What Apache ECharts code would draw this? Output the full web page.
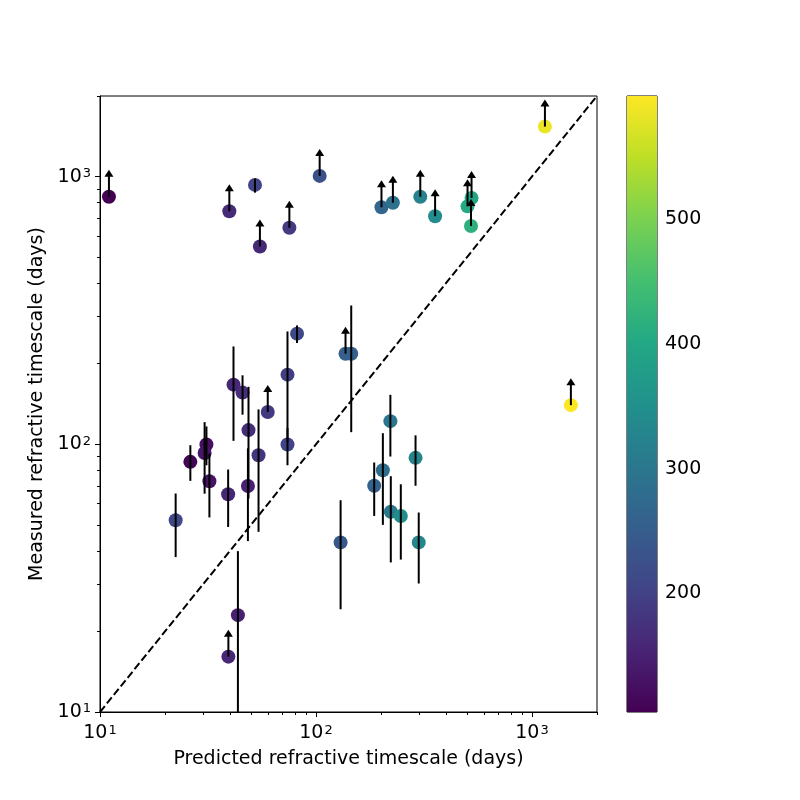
<!DOCTYPE html>
<html>
<head>
<meta charset="utf-8">
<script src="https://cdn.jsdelivr.net/npm/echarts@6/dist/echarts.min.js"></script>
<style>
  html, body { margin: 0; padding: 0; background: #fff; }
  #chart { width: 800px; height: 800px; }
</style>
</head>
<body>
<div id="chart"></div>
<script>
// one entry per source: predicted / measured timescale (days) and colour value
const predicted = [11.0, 39.7, 52.2, 55.0, 75.3, 104, 201, 227, 304, 356, 503, 525, 522, 1148, 1514,
  137, 145.6, 221, 289, 204, 186, 222, 247, 130, 299,
  81.7, 73.8, 41.5, 45.7, 59.8, 48.7, 73.8, 31.1, 30.5, 54.2, 26.2, 32.1, 48.4, 39.2, 22.4, 43.5, 39.3];
const measured = [841, 742, 931, 548, 644, 1006, 768, 798, 841, 711, 774, 832, 654, 1537, 140,
  218, 218, 122, 89, 80, 70, 56, 54, 43, 43,
  259, 182, 167, 156, 132, 113, 99.8, 99.8, 92.8, 91, 86, 72.8, 69.9, 65.1, 52, 23.0, 16.1];
const colourValue = [105, 165, 204, 160, 188, 228, 268, 288, 322, 342, 405, 400, 418, 584, 599,
  255, 255, 298, 327, 280, 259, 305, 342, 240, 332,
  215, 195, 160, 170, 188, 168, 204, 125, 135, 180, 110, 130, 150, 158, 213, 150, 160];
// error bar ends (null = none)
const errLow = [null, null, 871, null, null, null, null, null, null, null, null, null, null, null, null,
  null, 111, 90, 70, 50, 54, 36.2, 37.1, 24.2, 30.2,
  239, 102, 103, 129, null, 62.7, 83.5, 83.5, 65.4, 47.1, 73, 53.3, 43.5, 49.1, 37.9, 10, null];
const errHigh = [null, null, 983, null, null, null, null, null, null, null, null, null, null, null, null,
  null, 330, 153, 108, 110, 85.5, 76, 70.9, 61.8, 55.6,
  278, 264, 232, 181, null, 164, 115, 116.6, 121, 135, 99.2, 92.3, 96.6, 80.5, 65.5, 39.9, null];
// 1 = lower limit (arrow)
const lowerLimit = [1, 1, 0, 1, 1, 1, 1, 1, 1, 1, 1, 1, 1, 1, 1,
  1, 0, 0, 0, 0, 0, 0, 0, 0, 0,
  0, 0, 0, 0, 1, 0, 0, 0, 0, 0, 0, 0, 0, 0, 0, 0, 1];

const majorTicks = [10, 100, 1000];
const minorTicks = [20, 30, 40, 50, 60, 70, 80, 90, 200, 300, 400, 500, 600, 700, 800, 900, 2000];
const colourTicks = [200, 300, 400, 500];
const colourMin = 105, colourMax = 599;
const axisMin = 10, axisMax = 2000;
const viridis = ['#440154', '#482475', '#414487', '#355f8d', '#2a788e', '#21918c',
  '#22a884', '#44bf70', '#7ad151', '#bddf26', '#fde725'];

const points = predicted.map((x, i) => [x, measured[i], colourValue[i]]);
const bars = [];
const limits = [];
predicted.forEach((x, i) => {
  if (errLow[i] != null) bars.push([x, errLow[i], errHigh[i]]);
  if (lowerLimit[i]) limits.push([x, measured[i]]);
});

const font = 'DejaVu Sans';
function supLabel(v) {
  return '10{sup|' + Math.round(Math.log10(v)) + '}';
}
const labelStyle = {
  color: '#000', fontSize: 19, fontFamily: font,
  rich: { sup: { fontSize: 13, fontFamily: font, color: '#000', verticalAlign: 'top', padding: [0, 0, 6, 1] } }
};

function majorAxis(name, nameGap, margin, extra) {
  return Object.assign({
    type: 'log', logBase: 10, min: axisMin, max: axisMax, gridIndex: 0,
    name: name, nameLocation: 'middle', nameGap: nameGap,
    nameTextStyle: { color: '#000', fontSize: 19, fontFamily: font },
    axisLine: { show: true, lineStyle: { color: '#000', width: 1 } },
    axisTick: { show: true, customValues: majorTicks, length: 5, lineStyle: { color: '#000', width: 1 } },
    axisLabel: Object.assign({ customValues: majorTicks, formatter: supLabel, margin: margin }, labelStyle),
    splitLine: { show: false },
    minorTick: { show: false }
  }, extra || {});
}
function minorAxis(extra) {
  return Object.assign({
    type: 'log', logBase: 10, min: axisMin, max: axisMax, gridIndex: 0,
    axisLine: { show: false },
    axisTick: { show: true, customValues: minorTicks, length: 3, lineStyle: { color: '#000', width: 1 } },
    axisLabel: { show: false },
    splitLine: { show: false }
  }, extra || {});
}

const chart = echarts.init(document.getElementById('chart'));
chart.setOption({
  animation: false,
  backgroundColor: '#fff',
  grid: [
    { left: 100, right: 203, top: 96, bottom: 88, show: true, borderColor: '#000', borderWidth: 1, backgroundColor: 'transparent' },
    { left: 627, width: 30, top: 96, bottom: 88, show: true, borderColor: '#000', borderWidth: 1, backgroundColor: 'transparent' }
  ],
  xAxis: [
    majorAxis('Predicted refractive timescale (days)', 38, 12, { position: 'bottom' }),
    minorAxis({ position: 'bottom' }),
    { type: 'value', gridIndex: 1, min: 0, max: 1, show: false }
  ],
  yAxis: [
    majorAxis('Measured refractive timescale (days)', 49, 9, { position: 'left' }),
    minorAxis({ position: 'left' }),
    {
      type: 'value', gridIndex: 1, min: colourMin, max: colourMax, position: 'right',
      axisLine: { show: false },
      axisTick: { show: true, customValues: colourTicks, length: 5, lineStyle: { color: '#000' } },
      axisLabel: { customValues: colourTicks, color: '#000', fontSize: 19, fontFamily: font, margin: 8 },
      splitLine: { show: false }
    }
  ],
  visualMap: {
    type: 'continuous', show: false, seriesIndex: 1, dimension: 2,
    min: colourMin, max: colourMax, inRange: { color: viridis }
  },
  series: [
    {
      type: 'line', xAxisIndex: 0, yAxisIndex: 0, data: [[axisMin, axisMin], [axisMax, axisMax]],
      showSymbol: false, symbol: 'none', z: 1,
      lineStyle: { color: '#000', width: 2, type: [7.7, 3.3] }
    },
    {
      type: 'scatter', xAxisIndex: 0, yAxisIndex: 0, data: points, symbolSize: 14, z: 2,
      itemStyle: { opacity: 1 }
    },
    {
      type: 'custom', xAxisIndex: 0, yAxisIndex: 0, data: bars, z: 3,
      encode: { x: 0, y: [1, 2] },
      renderItem: function (params, api) {
        const lo = api.coord([api.value(0), api.value(1)]);
        const hi = api.coord([api.value(0), api.value(2)]);
        return {
          type: 'line',
          shape: { x1: lo[0], y1: lo[1], x2: hi[0], y2: hi[1] },
          style: { stroke: '#000', lineWidth: 2 }
        };
      }
    },
    {
      type: 'custom', xAxisIndex: 0, yAxisIndex: 0, data: limits, z: 4,
      encode: { x: 0, y: 1 },
      renderItem: function (params, api) {
        const c = api.coord([api.value(0), api.value(1)]);
        return {
          type: 'group',
          children: [
            { type: 'line', shape: { x1: c[0], y1: c[1], x2: c[0], y2: c[1] - 21 }, style: { stroke: '#000', lineWidth: 2 } },
            { type: 'polygon', shape: { points: [[c[0] - 4.5, c[1] - 20], [c[0] + 4.5, c[1] - 20], [c[0], c[1] - 27]] }, style: { fill: '#000' } }
          ]
        };
      }
    },
    {
      type: 'custom', xAxisIndex: 2, yAxisIndex: 2, data: [[0, colourMin, colourMax]], z: 1,
      renderItem: function (params, api) {
        const p0 = api.coord([0, api.value(1)]);
        const p1 = api.coord([1, api.value(2)]);
        return {
          type: 'rect',
          shape: { x: p0[0], y: p1[1], width: p1[0] - p0[0], height: p0[1] - p1[1] },
          style: {
            fill: new echarts.graphic.LinearGradient(0, 1, 0, 0,
              viridis.map((col, i) => ({ offset: i / (viridis.length - 1), color: col })))
          }
        };
      }
    }
  ]
});
</script>
</body>
</html>
